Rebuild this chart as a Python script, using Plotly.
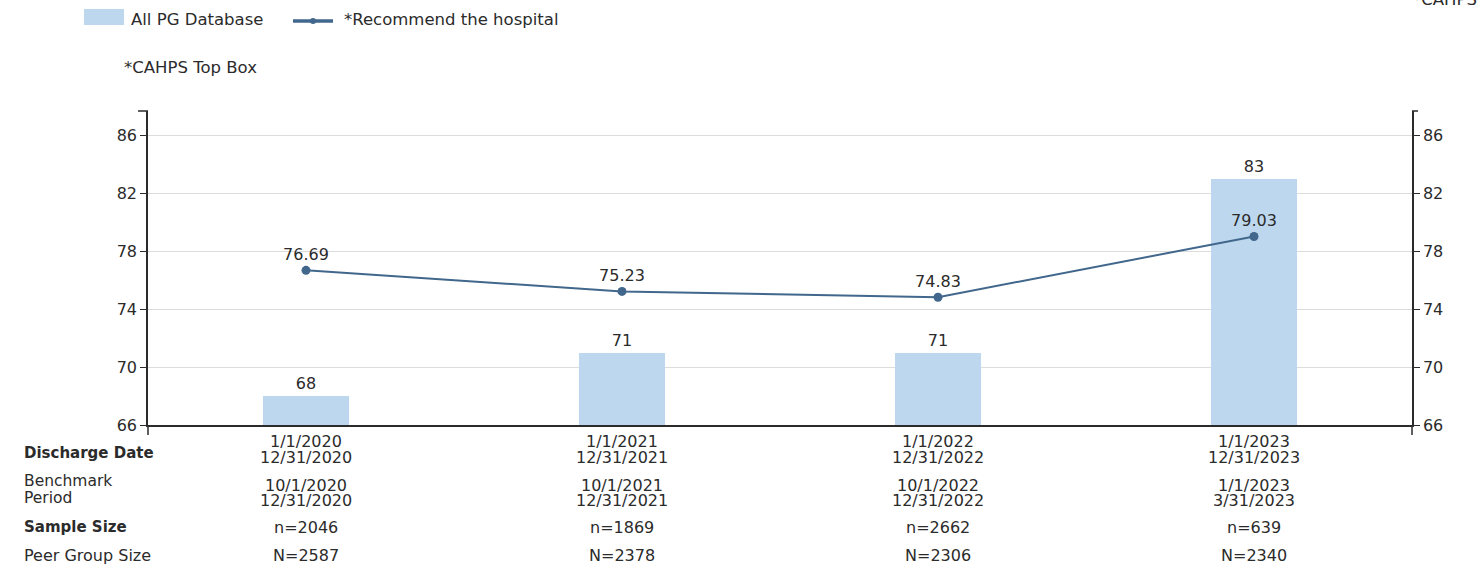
import plotly.graph_objects as go

# ---------------- data ----------------
periods = ["2020", "2021", "2022", "2023"]
pg_database = [68, 71, 71, 83]
recommend = [76.69, 75.23, 74.83, 79.03]
discharge_start = ["1/1/2020", "1/1/2021", "1/1/2022", "1/1/2023"]
discharge_end = ["12/31/2020", "12/31/2021", "12/31/2022", "12/31/2023"]
bench_start = ["10/1/2020", "10/1/2021", "10/1/2022", "1/1/2023"]
bench_end = ["12/31/2020", "12/31/2021", "12/31/2022", "3/31/2023"]
sample_size = [2046, 1869, 2662, 639]
peer_group_size = [2587, 2378, 2306, 2340]
y_ticks = [66, 70, 74, 78, 82, 86]

# ---------------- layout constants ----------------
FIG_W, FIG_H = 1478, 567
L, R, T, B = 148, 1412, 111, 425
W, H = R - L, B - T
FONT = "DejaVu Sans"
TXT = "#2b2b2b"
BAR_C = "#bdd7ee"
LINE_C = "#41678c"
FS = 16


def px_x(px):
    return (px - L) / W


def px_y(py):
    return (B - py) / H


fig = go.Figure()

fig.add_trace(go.Bar(
    x=periods, y=pg_database, name="All PG Database",
    marker=dict(color=BAR_C, line=dict(width=0)),
    width=0.272,
    text=[str(v) for v in pg_database], textposition="outside",
    textfont=dict(family=FONT, size=FS, color=TXT),
    cliponaxis=False, showlegend=False,
))

fig.add_trace(go.Scatter(
    x=periods, y=recommend, name="*Recommend the hospital",
    mode="lines+markers+text", yaxis="y2",
    line=dict(color=LINE_C, width=2),
    marker=dict(color=LINE_C, size=9),
    text=[f"{v:.2f}" for v in recommend], textposition="top center",
    textfont=dict(family=FONT, size=FS, color=TXT),
    cliponaxis=False, showlegend=False,
))

yr = [66, 87.7]
axis_common = dict(
    range=yr, tickvals=y_ticks, ticks="outside", ticklen=6, tickwidth=1.2,
    tickcolor=TXT, showline=True, linecolor=TXT, linewidth=1.5,
    tickfont=dict(family=FONT, size=FS, color=TXT), zeroline=False,
    fixedrange=True,
)

fig.update_layout(
    width=FIG_W, height=FIG_H,
    margin=dict(l=L, r=FIG_W - R, t=T, b=FIG_H - B),
    paper_bgcolor="white", plot_bgcolor="white",
    bargap=0,
    xaxis=dict(type="category", range=[-0.5, 3.5], showticklabels=False,
               ticks="", showline=True, linecolor=TXT, linewidth=1.5,
               showgrid=False, zeroline=False),
    yaxis=dict(**axis_common, showgrid=True, gridcolor="#dcdcdc", gridwidth=1),
    yaxis2=dict(**axis_common, overlaying="y", side="right", showgrid=False),
)

shapes = []
# axis extensions below the baseline and top caps
for xp, dx in [(L, -10), (R, 6)]:
    shapes.append(dict(type="line", xref="paper", yref="paper",
                       x0=px_x(xp), x1=px_x(xp), y0=px_y(B), y1=px_y(B + 10),
                       line=dict(color=TXT, width=1.5)))
    shapes.append(dict(type="line", xref="paper", yref="paper",
                       x0=px_x(xp), x1=px_x(xp + dx), y0=1, y1=1,
                       line=dict(color=TXT, width=1.5)))
# legend swatches
shapes.append(dict(type="rect", xref="paper", yref="paper",
                   x0=px_x(84), x1=px_x(124), y0=px_y(25), y1=px_y(9),
                   fillcolor=BAR_C, line=dict(width=0)))
shapes.append(dict(type="line", xref="paper", yref="paper",
                   x0=px_x(293), x1=px_x(333), y0=px_y(21), y1=px_y(21),
                   line=dict(color=LINE_C, width=3.5)))
shapes.append(dict(type="circle", xref="paper", yref="paper",
                   x0=px_x(310), x1=px_x(316), y0=px_y(24), y1=px_y(18),
                   fillcolor=LINE_C, line=dict(width=0)))

ann = []


def add_text(text, xpx, ypx, anchor="left", size=FS, xref="paper", x=None):
    ann.append(dict(
        text=text, xref=xref, yref="paper",
        x=px_x(xpx) if x is None else x, y=px_y(ypx),
        xanchor=anchor, yanchor="middle", showarrow=False,
        font=dict(family=FONT, size=size, color=TXT),
    ))


# legend texts
add_text("All PG Database", 129, 20, size=16.5)
add_text("*Recommend the hospital", 342, 20, size=16.5)
add_text("*CAHPS Top Box", 122, 68, size=16.5)
add_text("*CAHPS Top Box", 1411, 0, size=16.5)

# row labels
add_text("<b>Discharge Date</b>", 22, 453, size=15)
add_text("Benchmark", 22, 481, size=15.5)
add_text("Period", 22, 498, size=15.5)
add_text("<b>Sample Size</b>", 22, 527, size=15)
add_text("Peer Group Size", 22, 555)

# table values under each category
for i in range(len(periods)):
    add_text(discharge_start[i], 0, 441, anchor="center", xref="x", x=i)
    add_text(discharge_end[i], 0, 457, anchor="center", xref="x", x=i)
    add_text(bench_start[i], 0, 485, anchor="center", xref="x", x=i)
    add_text(bench_end[i], 0, 500, anchor="center", xref="x", x=i)
    add_text(f"n={sample_size[i]}", 0, 527, anchor="center", xref="x", x=i)
    add_text(f"N={peer_group_size[i]}", 0, 555, anchor="center", xref="x", x=i)

fig.update_layout(shapes=shapes, annotations=ann)
fig.write_html("out.html")
